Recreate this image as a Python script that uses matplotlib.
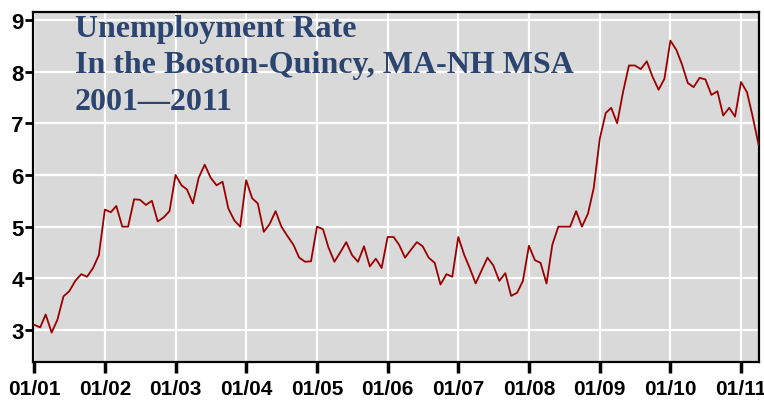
import numpy as np
import pandas as pd
import matplotlib
matplotlib.use('Agg')
import matplotlib.pyplot as plt
import matplotlib.dates as mdates

# monthly unemployment rate, Boston-Quincy MSA, Jan 2001 - Apr 2011
rate_2001 = [3.1, 3.05, 3.3, 2.95, 3.2, 3.65, 3.75, 3.95, 4.08, 4.03, 4.2, 4.45]
rate_2002 = [5.33, 5.28, 5.4, 5.0, 5.0, 5.53, 5.52, 5.42, 5.5, 5.1, 5.18, 5.3]
rate_2003 = [6.0, 5.8, 5.72, 5.45, 5.95, 6.2, 5.95, 5.8, 5.87, 5.35, 5.12, 5.0]
rate_2004 = [5.9, 5.55, 5.45, 4.9, 5.05, 5.3, 5.0, 4.82, 4.65, 4.4, 4.32, 4.33]
rate_2005 = [5.0, 4.95, 4.6, 4.32, 4.5, 4.7, 4.45, 4.32, 4.62, 4.23, 4.38, 4.2]
rate_2006 = [4.8, 4.8, 4.65, 4.4, 4.55, 4.7, 4.62, 4.4, 4.3, 3.88, 4.08, 4.03]
rate_2007 = [4.8, 4.45, 4.2, 3.9, 4.15, 4.4, 4.25, 3.95, 4.1, 3.66, 3.72, 3.95]
rate_2008 = [4.63, 4.35, 4.3, 3.9, 4.65, 5.0, 5.0, 5.0, 5.3, 5.0, 5.25, 5.75]
rate_2009 = [6.7, 7.2, 7.3, 7.0, 7.6, 8.12, 8.12, 8.05, 8.2, 7.9, 7.65, 7.86]
rate_2010 = [8.6, 8.42, 8.15, 7.78, 7.7, 7.88, 7.85, 7.55, 7.62, 7.15, 7.3, 7.13]
rate_2011 = [7.8, 7.6, 7.15, 6.6]

rate = (rate_2001 + rate_2002 + rate_2003 + rate_2004 + rate_2005 + rate_2006
        + rate_2007 + rate_2008 + rate_2009 + rate_2010 + rate_2011)
dates = pd.date_range('2001-01-01', periods=len(rate), freq='MS')

years = list(range(2001, 2012))
xtick_labels = ['01/%02d' % (y % 100) for y in years]
yticks = [3, 4, 5, 6, 7, 8, 9]
title_lines = ['Unemployment Rate', 'In the Boston-Quincy, MA-NH MSA', '2001\u20142011']

fig = plt.figure(figsize=(7.64, 4.02), dpi=100)
ax = fig.add_axes([0.0438, 0.097, 0.9497, 0.8707])
ax.set_facecolor('#d9d9d9')

ax.plot(dates, rate, color='#9b0000', lw=1.3, zorder=3)

ax.set_xticks([pd.Timestamp('%d-01-01' % y) for y in years])
ax.set_xticklabels(xtick_labels)
ax.set_yticks(yticks)
ax.set_xlim(pd.Timestamp('2000-12-28'), pd.Timestamp('2011-04-04'))
ax.set_ylim(2.38, 9.155)

ax.grid(True, color='white', lw=1.6, zorder=1)
ax.set_axisbelow(True)
for s in ax.spines.values():
    s.set_color('black')
    s.set_linewidth(1.6)

lab_font = ['Liberation Sans', 'DejaVu Sans']
ax.tick_params(axis='y', length=6, width=2, pad=1, labelsize=16)
ax.tick_params(axis='x', length=8, width=2.5, pad=4, labelsize=15)
for t in ax.get_xticklabels() + ax.get_yticklabels():
    t.set_family(lab_font)
    t.set_fontweight('bold')

# title block, one line at a time
baselines = [37, 73, 110]
for txt, b in zip(title_lines, baselines):
    fig.text(75 / 764, 1 - b / 402, txt, family=['Liberation Serif', 'DejaVu Serif'],
             fontweight='bold', fontsize=23, color='#2b4470', va='baseline', ha='left')

fig.savefig('out.png', dpi=100)
